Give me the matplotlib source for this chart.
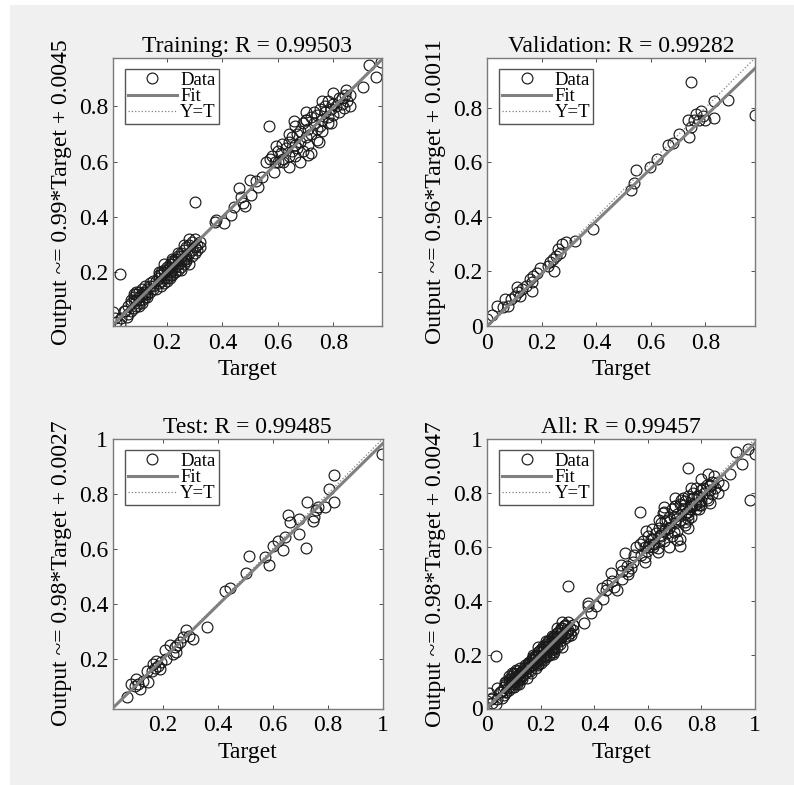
import matplotlib
matplotlib.use("Agg")
import matplotlib.pyplot as plt
from matplotlib.patches import Rectangle

plt.rcParams['font.family'] = ['Liberation Serif', 'DejaVu Serif']

# ---- data (target, output) ----
train_t = [0.006, 0.018, 0.03, 0.012, 0.035, 0.045, 0.03, 0.055,
           0.05, 0.06, 0.06, 0.07, 0.07, 0.08, 0.08, 0.08, 0.09, 0.09, 0.09, 0.10, 0.10, 0.10, 0.10,
           0.11, 0.11, 0.11, 0.12, 0.12, 0.12, 0.13, 0.13, 0.13, 0.14, 0.14, 0.14, 0.15, 0.15,
           0.07, 0.09, 0.11, 0.12, 0.10, 0.08,
           0.15, 0.16, 0.16, 0.17, 0.17, 0.17, 0.18, 0.18, 0.18, 0.18, 0.19, 0.19, 0.19, 0.19,
           0.20, 0.20, 0.20, 0.20, 0.21, 0.21, 0.21, 0.21, 0.22, 0.22, 0.22, 0.22, 0.23, 0.23,
           0.23, 0.23, 0.24, 0.24, 0.24, 0.24, 0.25, 0.25, 0.25, 0.25, 0.26, 0.26, 0.26, 0.27,
           0.27, 0.27, 0.28, 0.28, 0.28, 0.29, 0.29, 0.29, 0.30, 0.30, 0.31, 0.31, 0.32, 0.32,
           0.19, 0.21, 0.23, 0.25, 0.27, 0.17, 0.22, 0.24, 0.28, 0.26, 0.20, 0.30,
           0.30, 0.377, 0.375, 0.407, 0.431, 0.443, 0.467, 0.473, 0.483, 0.461, 0.503, 0.50,
           0.527, 0.543, 0.52,
           0.557, 0.587, 0.593, 0.569, 0.57, 0.58, 0.60, 0.61, 0.62, 0.60, 0.59, 0.615,
           0.62, 0.63, 0.64, 0.64, 0.65, 0.65, 0.66, 0.66, 0.67, 0.67, 0.68, 0.68, 0.69, 0.69,
           0.70, 0.70, 0.71, 0.71, 0.72, 0.72, 0.73, 0.73, 0.74, 0.74, 0.75, 0.75, 0.76, 0.76,
           0.77, 0.77, 0.78, 0.78, 0.79, 0.79, 0.80, 0.80, 0.81, 0.82, 0.83, 0.84, 0.85, 0.86,
           0.66, 0.70, 0.74, 0.78, 0.72, 0.68, 0.76, 0.82, 0.64, 0.80,
           0.639, 0.749, 0.707, 0.839, 0.659, 0.70,
           0.973, 0.929, 0.953, 0.905, 0.845, 0.86, 0.83]
train_y = [0.057, 0.021, 0.015, 0.035, 0.035, 0.06, 0.194, 0.04,
           0.06, 0.08, 0.05, 0.09, 0.06, 0.10, 0.07, 0.11, 0.08, 0.12, 0.10, 0.09, 0.11, 0.13, 0.10,
           0.12, 0.09, 0.14, 0.11, 0.13, 0.15, 0.12, 0.14, 0.11, 0.13, 0.15, 0.16, 0.14, 0.17,
           0.10, 0.13, 0.10, 0.12, 0.08, 0.12,
           0.15, 0.17, 0.14, 0.18, 0.16, 0.19, 0.17, 0.20, 0.15, 0.19, 0.18, 0.21, 0.16, 0.20,
           0.19, 0.22, 0.17, 0.21, 0.20, 0.23, 0.18, 0.22, 0.21, 0.24, 0.19, 0.23, 0.22, 0.25,
           0.20, 0.24, 0.23, 0.26, 0.21, 0.25, 0.24, 0.27, 0.22, 0.26, 0.25, 0.28, 0.23, 0.26,
           0.29, 0.24, 0.27, 0.30, 0.23, 0.28, 0.31, 0.26, 0.29, 0.32, 0.30, 0.28, 0.31, 0.29,
           0.23, 0.19, 0.20, 0.21, 0.25, 0.20, 0.25, 0.27, 0.32, 0.30, 0.18, 0.27,
           0.454, 0.39, 0.381, 0.379, 0.408, 0.438, 0.474, 0.45, 0.44, 0.504, 0.48, 0.533,
           0.51, 0.545, 0.53,
           0.599, 0.563, 0.658, 0.73, 0.61, 0.62, 0.60, 0.63, 0.61, 0.64, 0.60, 0.665,
           0.60, 0.65, 0.62, 0.67, 0.64, 0.69, 0.62, 0.66, 0.70, 0.65, 0.67, 0.71, 0.64, 0.74,
           0.69, 0.75, 0.72, 0.66, 0.76, 0.70, 0.74, 0.78, 0.72, 0.77, 0.73, 0.79, 0.75, 0.71,
           0.78, 0.80, 0.76, 0.82, 0.74, 0.79, 0.81, 0.77, 0.80, 0.83, 0.81, 0.84, 0.82, 0.80,
           0.73, 0.78, 0.68, 0.74, 0.63, 0.60, 0.82, 0.78, 0.70, 0.85,
           0.581, 0.670, 0.626, 0.795, 0.748, 0.75,
           0.962, 0.95, 0.908, 0.869, 0.861, 0.84, 0.83]

val_t = [0.982, 0.882, 0.832, 0.832, 0.80, 0.783, 0.765, 0.79, 0.775, 0.759, 0.735, 0.747,
         0.738, 0.748, 0.704, 0.68, 0.662, 0.622, 0.595, 0.546, 0.537, 0.527, 0.387, 0.32,
         0.29, 0.275, 0.259, 0.265, 0.253, 0.241, 0.229, 0.243, 0.223, 0.192, 0.18, 0.168,
         0.162, 0.155, 0.143, 0.125, 0.113, 0.107, 0.119, 0.101, 0.088, 0.076, 0.064, 0.058,
         0.034, 0.0, 0.015, 0.162]
val_y = [0.774, 0.829, 0.824, 0.763, 0.756, 0.788, 0.778, 0.768, 0.756, 0.754, 0.756, 0.73,
         0.693, 0.893, 0.703, 0.669, 0.665, 0.612, 0.584, 0.57, 0.523, 0.499, 0.356, 0.311,
         0.308, 0.299, 0.281, 0.269, 0.257, 0.245, 0.233, 0.202, 0.221, 0.214, 0.196, 0.184,
         0.16, 0.172, 0.145, 0.136, 0.124, 0.142, 0.111, 0.111, 0.099, 0.075, 0.099, 0.069,
         0.075, 0.027, 0.039, 0.13]

test_t = [0.999, 0.823, 0.806, 0.823, 0.79, 0.766, 0.757, 0.75, 0.748, 0.724, 0.697, 0.697,
          0.721, 0.663, 0.655, 0.645, 0.639, 0.62, 0.602, 0.572, 0.588, 0.513, 0.503, 0.445,
          0.427, 0.362, 0.311, 0.287, 0.297, 0.263, 0.253, 0.245, 0.227, 0.239, 0.208, 0.248,
          0.275, 0.214, 0.196, 0.184, 0.172, 0.178, 0.16, 0.19, 0.166, 0.142, 0.148, 0.111,
          0.099, 0.117, 0.087, 0.105, 0.13, 0.071]
test_y = [0.945, 0.869, 0.818, 0.772, 0.754, 0.754, 0.742, 0.718, 0.703, 0.772, 0.709, 0.655,
          0.602, 0.697, 0.725, 0.642, 0.596, 0.63, 0.612, 0.57, 0.543, 0.576, 0.512, 0.46,
          0.448, 0.318, 0.273, 0.305, 0.285, 0.261, 0.252, 0.242, 0.252, 0.218, 0.233, 0.224,
          0.279, 0.2, 0.188, 0.176, 0.167, 0.194, 0.158, 0.164, 0.182, 0.155, 0.115, 0.109,
          0.103, 0.091, 0.109, 0.127, 0.121, 0.063]

titles = ['Training', 'Validation', 'Test', 'All']
r_values = [0.99503, 0.99282, 0.99485, 0.99457]
fit_slope = [0.99, 0.96, 0.98, 0.98]
fit_icpt = [0.0045, 0.0011, 0.0027, 0.0047]
limits = [(0.006, 0.975), (0.0, 0.982), (0.02, 1.0), (0.0, 1.0)]

sets = [(train_t, train_y), (val_t, val_y), (test_t, test_y),
        (train_t + val_t + test_t, train_y + val_y + test_y)]

W, H = 794, 785
fig = plt.figure(figsize=(W / 100, H / 100), dpi=100, facecolor='white')
fig.patches.append(Rectangle((10 / W, 0), 1 - 10 / W, 1 - 5 / H, transform=fig.transFigure,
                             facecolor='#f0f0f0', edgecolor='none', zorder=-10))

# axes boxes in pixels: left, top, right, bottom
boxes = [(113, 58, 382, 326), (487.5, 58, 755, 326),
         (113, 439, 382.5, 708.5), (487.5, 439, 755, 708.5)]

FS = 17
for i, (tt, yy) in enumerate(sets):
    l, t, r, b = boxes[i]
    ax = fig.add_axes([l / W, (H - b) / H, (r - l) / W, (b - t) / H])
    lo, hi = limits[i]
    ax.plot(tt, yy, 'o', mfc='none', mec='#1a1a1a', ms=7.8, mew=0.85, label='Data', zorder=2)
    ax.plot([lo, hi], [fit_slope[i] * lo + fit_icpt[i], fit_slope[i] * hi + fit_icpt[i]],
            '-', color='#808080', lw=2.2, label='Fit', zorder=3)
    ax.plot([lo, hi], [lo, hi], ':', color='#808080', lw=0.9, label='Y=T', zorder=4)
    ax.set_xlim(lo, hi)
    ax.set_ylim(lo, hi)
    ticks = [v / 10 for v in range(0, 11, 2) if lo - 1e-9 <= v / 10 <= hi + 1e-9]
    ax.set_xticks(ticks)
    ax.set_yticks(ticks)
    ax.set_xticklabels([f'{v:g}' for v in ticks])
    ax.set_yticklabels([f'{v:g}' for v in ticks])
    ax.tick_params(direction='in', length=3, width=0.6, color='#333333', labelsize=FS,
                   top=True, right=True, pad=3.5)
    ax.tick_params(axis='x', pad=5)
    for s in ax.spines.values():
        s.set_color('#7a7a7a')
        s.set_linewidth(1.0)
    ax.set_title(f'{titles[i]}: R = {r_values[i]:.5f}', fontsize=FS, pad=4)
    ax.set_xlabel('Target', fontsize=FS, labelpad=4)
    ax.set_ylabel(f'Output ~= {fit_slope[i]:.2f}*Target + {fit_icpt[i]:.4f}', fontsize=FS,
                  labelpad=5)
    leg = ax.legend(loc='upper left', bbox_to_anchor=(12 / (r - l), 1 - 11 / (b - t)),
                    borderaxespad=0, fontsize=13.5, fancybox=False, framealpha=1,
                    edgecolor='#555555', handlelength=2.6, handletextpad=0.2,
                    labelspacing=-0.05, borderpad=0.15, numpoints=1)
    leg.get_frame().set_linewidth(1.0)

fig.savefig('out.png', dpi=100, facecolor=fig.get_facecolor())
